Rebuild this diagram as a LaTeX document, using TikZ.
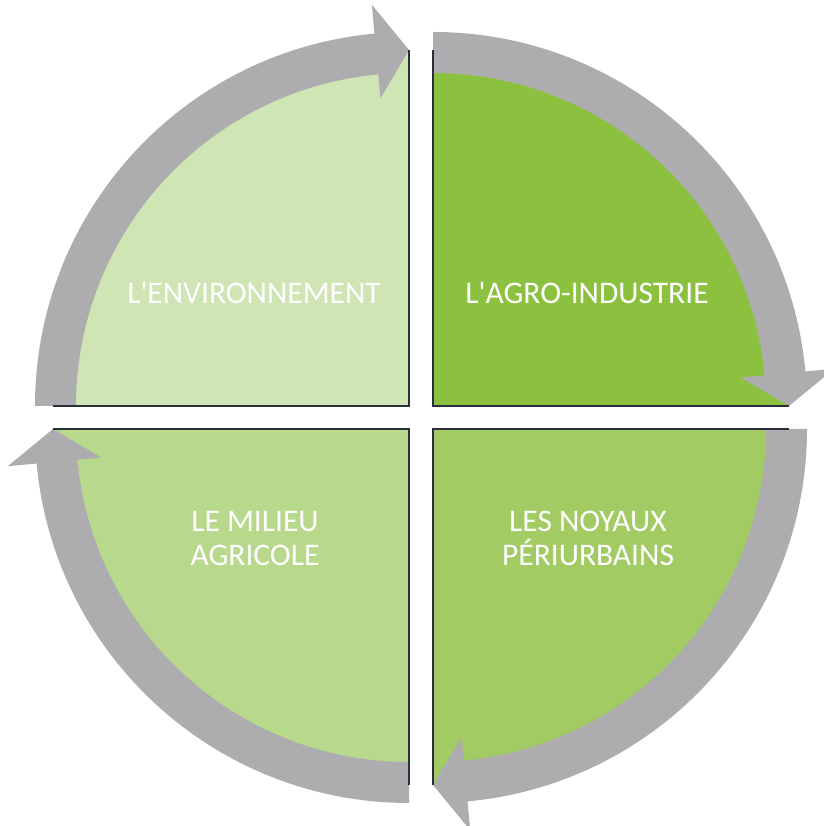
\documentclass[tikz,border=0pt]{standalone}
\usepackage{fontspec}
\setmainfont{Carlito}[Ligatures=TeXOff]
\usepackage{tikz}
\usetikzlibrary{calc}
\definecolor{ringgray}{RGB}{173,173,175}
\definecolor{rimdark}{RGB}{42,45,59}
\definecolor{envgreen}{RGB}{208,229,180}
\definecolor{agrogreen}{RGB}{139,193,63}
\definecolor{milgreen}{RGB}{184,217,139}
\definecolor{noygreen}{RGB}{162,203,99}

\begin{document}
\begin{tikzpicture}[x=1pt, y=1pt,
  ring/.style={fill=ringgray},
  rim/.style={draw=rimdark, line width=2.4pt, line join=miter},
  lbl/.style={text=white, font=\fontsize{31.5}{34}\selectfont, align=center, anchor=base, inner sep=0pt}]
\useasboundingbox (0,0) rectangle (823,826);
% quarters: corner, start angle of the arrow (it turns clockwise by 90)
\foreach \n/\cx/\cy/\s/\col in {env/409/420/180/envgreen, agro/433/420/90/agrogreen, noy/433/397/0/noygreen, mil/409/397/270/milgreen} {
  \coordinate (\n) at (\cx,\cy);
  \fill[\col] (\n) -- ($(\n)+(\s:356)$) arc[start angle=\s, delta angle=-90, radius=356] -- cycle;
  \fill[ring] ($(\n)+(\s:374)$) arc[start angle=\s, end angle=\s-84.7, radius=374] -- ($(\n)+(\s-84.7:403)$) -- ($(\n)+(\s-90:356)$)
    -- ($(\n)+(\s-84.7:309)$) -- ($(\n)+(\s-84.7:333)$) arc[start angle=\s-84.7, end angle=\s, radius=333] -- cycle;
  \draw[rim] ($(\n)+(\s:356)$) -- (\n) -- ($(\n)+(\s-90:356)$);
}
\node[lbl] (envtxt) at (254,522) {L'ENVIRONNEMENT};
\node[lbl] (agrotxt) at (587,522) {L'AGRO-INDUSTRIE};
\node[lbl] (miltxt) at (255,260) {LE MILIEU\\AGRICOLE};
\node[lbl] (noytxt) at (588,260) {LES NOYAUX\\PÉRIURBAINS};
\end{tikzpicture}
\end{document}
